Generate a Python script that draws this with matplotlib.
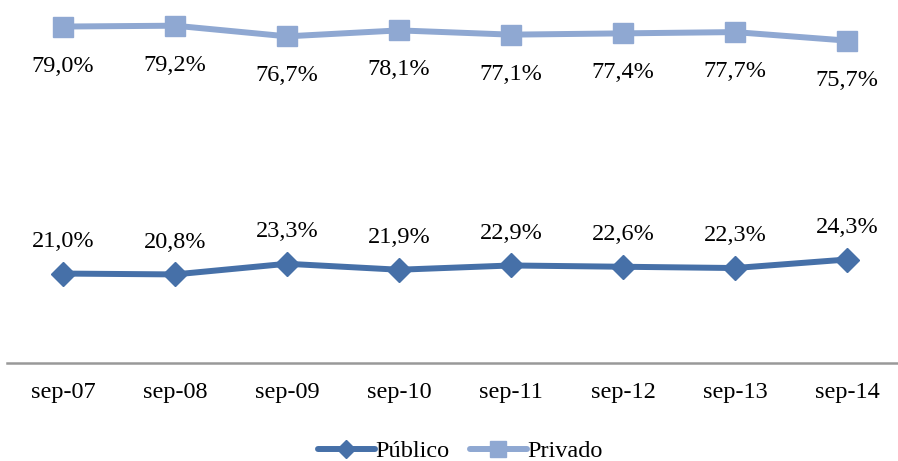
import matplotlib
matplotlib.use("Agg")
import matplotlib.pyplot as plt

categories = ["sep-07", "sep-08", "sep-09", "sep-10", "sep-11", "sep-12", "sep-13", "sep-14"]
publico = [21.0, 20.8, 23.3, 21.9, 22.9, 22.6, 22.3, 24.3]
privado = [79.0, 79.2, 76.7, 78.1, 77.1, 77.4, 77.7, 75.7]

plt.rcParams['font.family'] = ['Liberation Serif', 'DejaVu Serif']

W, H = 898, 461
fig = plt.figure(figsize=(W / 100, H / 100), dpi=100)
left, right = 7, 903
bottom, top = 363, 1
ax = fig.add_axes([left / W, 1 - bottom / H, (right - left) / W, (bottom - top) / H])

c_pub = "#4670A8"
c_priv = "#8FA8D2"
x = list(range(len(categories)))
ax.plot(x, publico, color=c_pub, lw=4.3, marker="D", ms=12, label="Público", solid_capstyle="round")
ax.plot(x, privado, color=c_priv, lw=4.3, marker="s", ms=14.5, label="Privado", solid_capstyle="round")

fs = 17.5
for xi, v in zip(x, publico):
    ax.annotate(f"{v:.1f}%".replace(".", ","), (xi, v), xytext=(0, 23.3), textcoords="offset points",
                ha="center", va="center", fontsize=fs)
for xi, v in zip(x, privado):
    ax.annotate(f"{v:.1f}%".replace(".", ","), (xi, v), xytext=(0, -28.5), textcoords="offset points",
                ha="center", va="center", fontsize=fs)

ax.set_xlim(-0.5, len(categories) - 0.5)
ax.set_ylim(0, 85)
ax.set_xticks(x)
ax.set_xticklabels(categories, fontsize=fs)
ax.tick_params(axis="x", length=0, pad=14)
ax.set_yticks([])
for s in ["top", "right", "left"]:
    ax.spines[s].set_visible(False)
ax.spines["bottom"].set_color("#999999")
ax.spines["bottom"].set_linewidth(1.8)

leg = fig.legend(loc="center", bbox_to_anchor=(460 / W, 1 - 451 / H), ncol=2, frameon=False,
                 fontsize=fs, handlelength=2.35, handletextpad=0.0, columnspacing=0.85, markerscale=0.8)

fig.savefig("out.png", dpi=100)
